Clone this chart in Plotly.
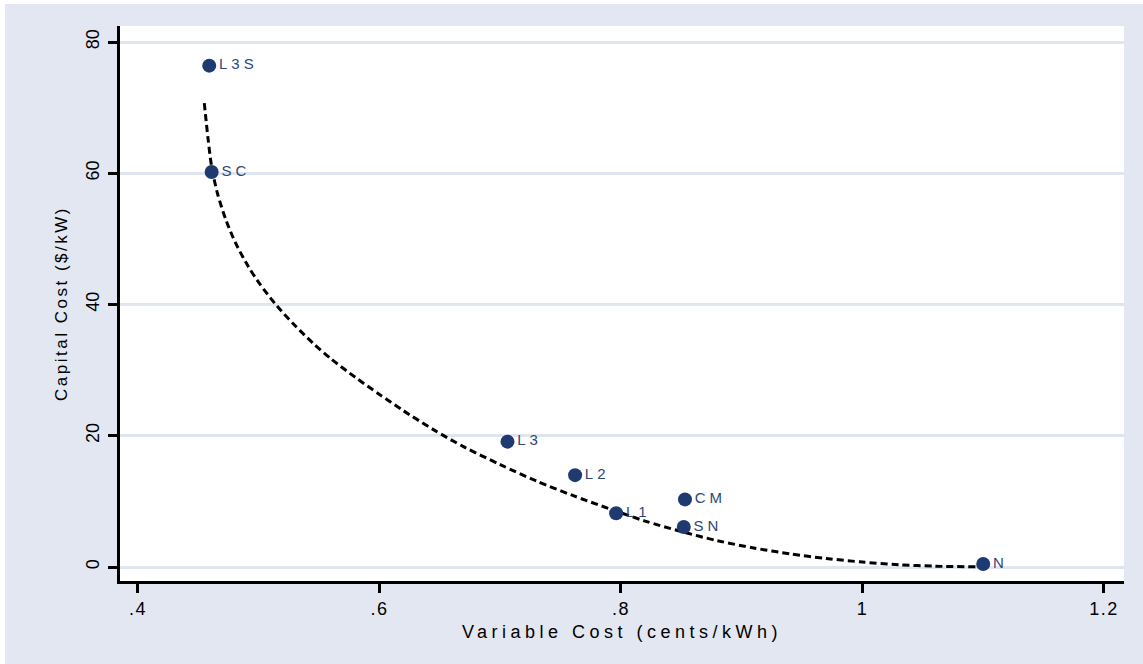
import plotly.graph_objects as go

# ---- data ----
tech_names = ["L3S", "SC", "L3", "L2", "L1", "CM", "SN", "N"]
variable_cost = [0.459, 0.461, 0.706, 0.762, 0.796, 0.853, 0.852, 1.100]
capital_cost = [76.4, 60.2, 19.1, 14.0, 8.2, 10.3, 6.1, 0.45]

# fitted curve (dashed)
fit_x = [0.4549, 0.458, 0.461, 0.466, 0.473, 0.481, 0.491, 0.501, 0.515, 0.530,
         0.545, 0.560, 0.580, 0.600, 0.620, 0.645, 0.670, 0.700, 0.730, 0.760,
         0.790, 0.820, 0.850, 0.880, 0.910, 0.940, 0.970, 1.000, 1.030, 1.060, 1.095]
fit_y = [70.7, 65.3, 61.0, 56.8, 52.8, 49.3, 45.9, 43.1, 39.8, 36.8,
         34.1, 31.7, 28.9, 26.3, 23.8, 20.9, 18.3, 15.6, 13.1, 10.9,
         8.9, 7.0, 5.4, 4.0, 2.9, 2.0, 1.3, 0.75, 0.35, 0.12, 0.03]

x_tickvals = [0.4, 0.6, 0.8, 1.0, 1.2]
x_ticktext = [".4", ".6", ".8", "1", "1.2"]
y_tickvals = [0, 20, 40, 60, 80]
y_ticktext = ["0", "20", "40", "60", "80"]

BG = "#E2E7F1"
GRID = "#E0E6F0"
NAVY = "#1E3A70"
LABEL = "#2F4678"
FONT = "Liberation Sans, Arial, sans-serif"

fig = go.Figure()

fig.add_trace(go.Scatter(
    x=fit_x, y=fit_y, mode="lines",
    line=dict(color="black", width=3, dash="7px,4px", shape="spline", smoothing=0.8),
    hoverinfo="skip", showlegend=False,
))

fig.add_trace(go.Scatter(
    x=variable_cost, y=capital_cost, mode="markers+text",
    text=tech_names, textposition="middle right",
    textfont=dict(family=FONT, size=15, color=LABEL),
    marker=dict(color=NAVY, size=14, line=dict(width=0)),
    showlegend=False,
))

W, H = 1143, 664
ml, mr, mt, mb = 120, 19, 26, 83
pw, ph = W - ml - mr, H - mt - mb

fig.update_layout(
    width=W, height=H,
    margin=dict(l=ml, r=mr, t=mt, b=mb),
    paper_bgcolor=BG, plot_bgcolor="white",
    font=dict(family=FONT, color="black"),
    shapes=[
        # thin white strips at the very top and left of the image
        dict(type="rect", xref="paper", yref="paper", layer="below",
             x0=-0.3, x1=1.2, y0=(ph + mt - 4) / ph, y1=1.3,
             fillcolor="white", line=dict(width=0)),
        dict(type="rect", xref="paper", yref="paper", layer="below",
             x0=-0.3, x1=-(ml - 5) / pw, y0=-0.3, y1=1.3,
             fillcolor="white", line=dict(width=0)),
    ],
    xaxis=dict(
        range=[0.3851, 1.2166], tickvals=x_tickvals, ticktext=x_ticktext,
        showgrid=False, zeroline=False,
        showline=True, linecolor="black", linewidth=3,
        ticks="outside", ticklen=9, tickwidth=2.5, tickcolor="black",
        tickfont=dict(size=18, family=FONT, color="black"),
        title=dict(text="Variable Cost (cents/kWh)", standoff=8,
                   font=dict(size=18, family=FONT, color="black")),
    ),
    yaxis=dict(
        range=[-2.133, 82.44], tickvals=y_tickvals, ticktext=y_ticktext,
        showgrid=True, gridcolor=GRID, gridwidth=2.5, zeroline=False,
        showline=True, linecolor="black", linewidth=3,
        ticks="outside", ticklen=9, tickwidth=2.5, tickcolor="black",
        tickangle=-90, ticklabelstandoff=2,
        tickfont=dict(size=18, family=FONT, color="black"),
        title=dict(text="Capital Cost ($/kW)", standoff=11,
                   font=dict(size=17, family=FONT, color="black")),
    ),
)

js = """
document.body.style.margin = '0px';
document.body.style.overflow = 'hidden';
var gd = document.getElementById('{plot_id}');
function spacing(){
  gd.querySelectorAll('.xtitle').forEach(function(e){e.style.letterSpacing='4.5px';});
  gd.querySelectorAll('.ytitle').forEach(function(e){e.style.letterSpacing='2.5px';});
  gd.querySelectorAll('.xtick text').forEach(function(e){e.style.letterSpacing='1.5px';});
  gd.querySelectorAll('.textpoint text').forEach(function(e){e.style.letterSpacing='4px';});
}
spacing();
gd.on('plotly_afterplot', spacing);
"""

fig.write_html("out.html", post_script=js, config={"displayModeBar": False})
